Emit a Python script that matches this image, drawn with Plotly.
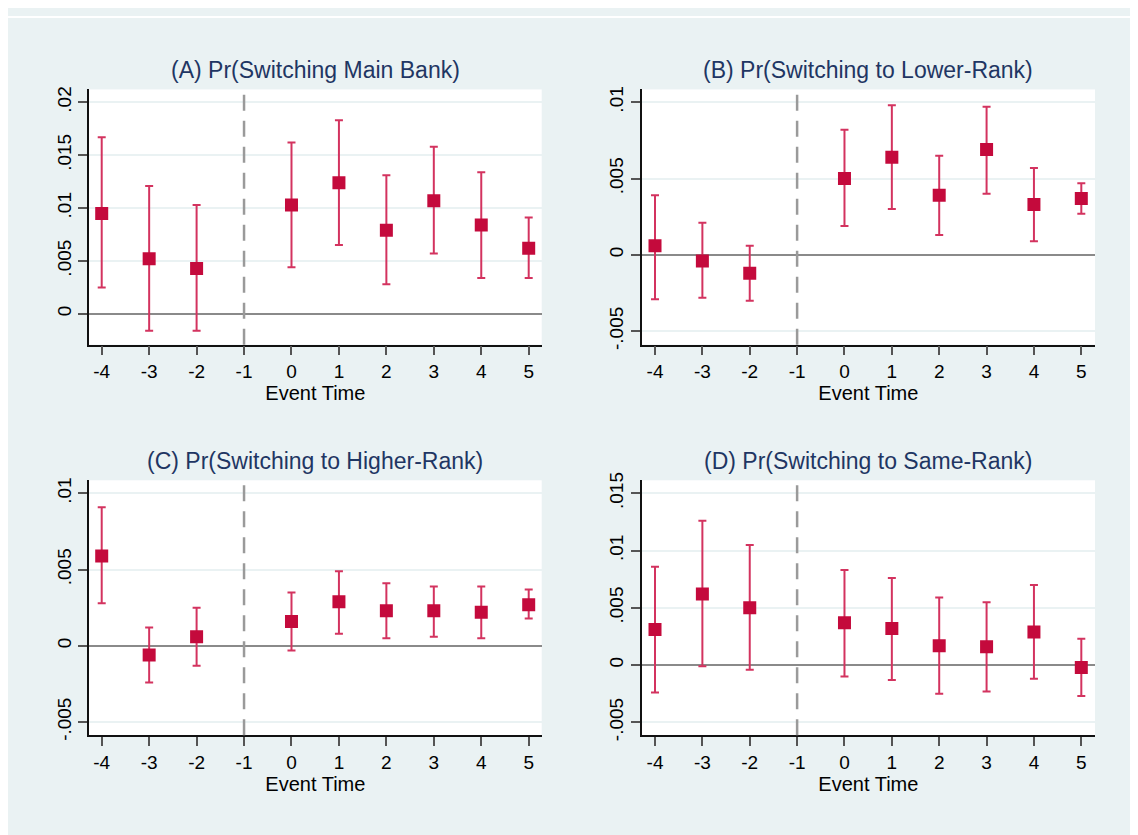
import plotly.graph_objects as go

event_time = [-4, -3, -2, 0, 1, 2, 3, 4, 5]

# Panel A: Pr(Switching Main Bank)
a_point = [0.0095, 0.0052, 0.0043, 0.0103, 0.0124, 0.0079, 0.0107, 0.0084, 0.0062]
a_lower = [0.0025, -0.0016, -0.0016, 0.0044, 0.0065, 0.0028, 0.0057, 0.0034, 0.0034]
a_upper = [0.0167, 0.0121, 0.0103, 0.0162, 0.0183, 0.0131, 0.0158, 0.0134, 0.0091]

# Panel B: Pr(Switching to Lower-Rank)
b_point = [0.0006, -0.0004, -0.0012, 0.0050, 0.0064, 0.0039, 0.0069, 0.0033, 0.0037]
b_lower = [-0.0029, -0.0028, -0.0030, 0.0019, 0.0030, 0.0013, 0.0040, 0.0009, 0.0027]
b_upper = [0.0039, 0.0021, 0.0006, 0.0082, 0.0098, 0.0065, 0.0097, 0.0057, 0.0047]

# Panel C: Pr(Switching to Higher-Rank)
c_point = [0.0059, -0.0006, 0.0006, 0.0016, 0.0029, 0.0023, 0.0023, 0.0022, 0.0027]
c_lower = [0.0028, -0.0024, -0.0013, -0.0003, 0.0008, 0.0005, 0.0006, 0.0005, 0.0018]
c_upper = [0.0091, 0.0012, 0.0025, 0.0035, 0.0049, 0.0041, 0.0039, 0.0039, 0.0037]

# Panel D: Pr(Switching to Same-Rank)
d_point = [0.0031, 0.0062, 0.0050, 0.0037, 0.0032, 0.0017, 0.0016, 0.0029, -0.0002]
d_lower = [-0.0024, -0.0001, -0.0004, -0.0010, -0.0013, -0.0025, -0.0023, -0.0012, -0.0027]
d_upper = [0.0086, 0.0126, 0.0105, 0.0083, 0.0076, 0.0059, 0.0055, 0.0070, 0.0023]

x_ticks = [-4, -3, -2, -1, 0, 1, 2, 3, 4, 5]
x_ticklabels = ["-4", "-3", "-2", "-1", "0", "1", "2", "3", "4", "5"]

titles = ["(A) Pr(Switching Main Bank)", "(B) Pr(Switching to Lower-Rank)",
          "(C) Pr(Switching to Higher-Rank)", "(D) Pr(Switching to Same-Rank)"]

y_ticks_a = [0, 0.005, 0.01, 0.015, 0.02]
y_labels_a = ["0", ".005", ".01", ".015", ".02"]
y_ticks_b = [-0.005, 0, 0.005, 0.01]
y_labels_b = ["-.005", "0", ".005", ".01"]
y_ticks_c = [-0.005, 0, 0.005, 0.01]
y_labels_c = ["-.005", "0", ".005", ".01"]
y_ticks_d = [-0.005, 0, 0.005, 0.01, 0.015]
y_labels_d = ["-.005", "0", ".005", ".01", ".015"]

# figure is placed by the page at (8, 8); it fills the rest of the window
OX, OY = 8, 8
W, H = 1130, 827
FONT = "Liberation Sans, Arial, sans-serif"
BG = "#EAF2F3"
MARK = "#C40A3C"
ERR = "#D3335F"
TITLE_COL = "#1F3663"

panels = [
    dict(pt=a_point, lo=a_lower, hi=a_upper, yt=y_ticks_a, yl=y_labels_a,
         xd=(89, 541.7), yd=(82.7, 342.3), xr=(-4.268, 5.274), yr=(-0.00291, 0.02122)),
    dict(pt=b_point, lo=b_lower, hi=b_upper, yt=y_ticks_b, yl=y_labels_b,
         xd=(641.7, 1095), yd=(82.7, 342.3), xr=(-4.281, 5.289), yr=(-0.00588, 0.01084)),
    dict(pt=c_point, lo=c_lower, hi=c_upper, yt=y_ticks_c, yl=y_labels_c,
         xd=(89, 541.7), yd=(480.3, 739.7), xr=(-4.268, 5.274), yr=(-0.00587, 0.01086)),
    dict(pt=d_point, lo=d_lower, hi=d_upper, yt=y_ticks_d, yl=y_labels_d,
         xd=(641.7, 1095), yd=(480.3, 739.7), xr=(-4.281, 5.289), yr=(-0.00613, 0.01614)),
]

fig = go.Figure()
layout = dict(
    width=W, height=H, margin=dict(l=0, r=0, t=0, b=0),
    paper_bgcolor=BG, plot_bgcolor="white", showlegend=False,
    font=dict(family=FONT, color="#000000"),
)
shapes = []
annotations = []

for i, p in enumerate(panels):
    n = "" if i == 0 else str(i + 1)
    xa, ya = "x" + n, "y" + n
    plus = [h - v for h, v in zip(p["hi"], p["pt"])]
    minus = [v - l for v, l in zip(p["pt"], p["lo"])]
    fig.add_trace(go.Scatter(
        x=event_time, y=p["pt"], mode="markers", xaxis=xa, yaxis=ya,
        marker=dict(symbol="square", size=13, color=MARK),
        error_y=dict(type="data", array=plus, arrayminus=minus, symmetric=False,
                     color=ERR, thickness=2, width=4),
    ))
    x0, x1 = (p["xd"][0] - OX) / W, (p["xd"][1] - OX) / W
    y0, y1 = 1 - (p["yd"][1] - OY) / H, 1 - (p["yd"][0] - OY) / H
    layout["xaxis" + n] = dict(
        domain=[x0, x1], range=list(p["xr"]), anchor=ya,
        tickmode="array", tickvals=x_ticks, ticktext=x_ticklabels,
        ticks="outside", ticklen=9, tickwidth=2, tickcolor="#555555",
        showline=True, linecolor="#111111", linewidth=1.5, showgrid=False, zeroline=False,
        tickfont=dict(size=19, color="#000000"),
        title=dict(text="Event Time", font=dict(size=20, color="#000000"), standoff=0),
    )
    layout["yaxis" + n] = dict(
        domain=[y0, y1], range=list(p["yr"]), anchor=xa,
        tickmode="array", tickvals=p["yt"], ticktext=p["yl"], tickangle=-90,
        ticks="outside", ticklen=9, tickwidth=2, tickcolor="#555555",
        showline=True, linecolor="#111111", linewidth=1.5,
        showgrid=True, gridcolor=BG, gridwidth=2,
        zeroline=True, zerolinecolor="#8A8A8A", zerolinewidth=2,
        tickfont=dict(size=19, color="#000000"),
    )
    shapes.append(dict(type="line", xref=xa, yref=ya + " domain", x0=-1, x1=-1, y0=0, y1=1,
                       line=dict(color="#9A9A9A", width=2.5, dash="16px,10px")))
    annotations.append(dict(text=titles[i], xref="paper", yref="paper",
                            x=(x0 + x1) / 2, y=1 - (p["yd"][0] - 19.5 - OY) / H,
                            xanchor="center", yanchor="middle", showarrow=False,
                            font=dict(size=23, color=TITLE_COL)))

# thin white strip at the very top
shapes.append(dict(type="rect", xref="paper", yref="paper", x0=0, x1=1, y0=1 - 2 / H, y1=1,
                   fillcolor="white", line=dict(width=0)))

layout["shapes"] = shapes
layout["annotations"] = annotations
fig.update_layout(**layout)
fig.write_html("out.html")
